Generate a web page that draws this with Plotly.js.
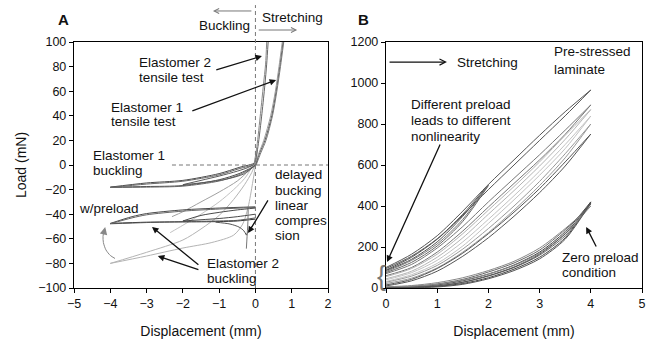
<!DOCTYPE html>
<html><head><meta charset="utf-8">
<script src="https://cdn.plot.ly/plotly-3.0.1.min.js"></script>
<style>html,body{margin:0;padding:0;background:#fff}#chart{width:652px;height:339px}</style>
</head><body><div id="chart"></div>
<script>
// ================= Panel A data (Displacement mm, Load mN) =================
// Elastomer 2 tensile test
const e2TenY  = [0, 15, 42, 65, 82, 100];
const e2TenX1 = [-0.02, 0.07, 0.18, 0.26, 0.31, 0.35];
const e2TenX2 = [-0.04, 0.04, 0.14, 0.22, 0.28, 0.31];
// Elastomer 1 tensile test
const e1TenY  = [0, 10, 20, 40, 60, 80, 100];
const e1TenX1 = [0, 0.12, 0.26, 0.45, 0.57, 0.67, 0.76];
const e1TenX2 = [0.02, 0.15, 0.29, 0.47, 0.59, 0.69, 0.78];
const e1TenX3 = [-0.02, 0.1, 0.23, 0.42, 0.55, 0.65, 0.74];
// Elastomer 1 buckling (cycles to -4 mm and -2 mm)
const e1CompX   = [0.05, 0, -0.1, -0.45, -1, -2, -3, -4];
const e1CompY1  = [6, 0, -2, -7, -12, -16.7, -17.5, -18];
const e1CompY2  = [5, 0, -2.5, -8, -13, -17.2, -18, -18.3];
const e1RetX    = [-4, -3, -2, -1, -0.45, 0, 0.05];
const e1RetY1   = [-18, -14.6, -12.5, -7, -2, 2, 6];
const e1RetY2   = [-18.3, -15.5, -13.2, -8, -3, 1, 5];
const e1ShortOutX = [0, -0.3, -0.8, -1.5, -2];
const e1ShortOutY = [0, -7, -11.5, -14.5, -16];
const e1ShortRetX = [-2, -1.5, -1, -0.5, -0.2, 0];
const e1ShortRetY = [-16, -12.5, -9, -5, -2, 1];
// Elastomer 2 buckling with preload
const e2OutX   = [0, -0.5, -1, -2, -3, -4];
const e2LowY1  = [-44, -45.5, -46, -46.3, -46.5, -47.5];
const e2LowY2  = [-43, -45, -45.5, -46, -46.8, -47.8];
const e2RetX   = [-4, -3.4, -3, -2, -1, 0];
const e2UpY1   = [-47.5, -42, -39.5, -36.5, -35, -34];
const e2UpY2   = [-47.8, -43, -40.5, -37.5, -35.8, -34.5];
const e2ShortOutX = [0, -0.5, -1, -1.5, -2];
const e2ShortOutY = [-40, -42, -43.5, -44.5, -45.5];
const e2ShortRetX = [-2, -1.5, -1, -0.5, 0];
const e2ShortRetY = [-45.5, -41, -38.5, -36.5, -35];
// delayed buckling / linear compression
const delayLeftX  = [-1.1, -0.7, -0.45, -0.32, -0.25];
const delayLeftY  = [-46.5, -48, -50.5, -53.5, -57];
const delayRightX = [-0.25, -0.18, -0.1, -0.03, 0];
const delayRightY = [-57, -53, -50, -47.5, -46];
const delayVertX  = [-0.2, -0.21, -0.23, -0.25];
const delayVertY  = [-36, -48, -58, -68];
// Elastomer 2 buckling without preload (light grey)
const lgt1X = [-4, -3, -2, -1.5, -1, -0.6, -0.3, -0.1, 0, 0.05];
const lgt1Y = [-80, -71, -61, -52, -41, -28, -16, -6, 2, 12];
const lgt2X = [-4, -3, -2, -1.2, -0.6, -0.35, -0.2, -0.08, 0, 0.05];
const lgt2Y = [-80, -74, -67.5, -63, -57, -48, -34, -15, 0, 12];
const lgt3X = [-2.35, -2, -1.5, -1, -0.6, -0.3, -0.1, 0.02];
const lgt3Y = [-55, -49, -40, -30, -20, -11, -2, 5];
const lgt4X = [-2.3, -2, -1.5, -1, -0.5, -0.2, 0];
const lgt4Y = [-42, -38, -30, -22, -13, -5, 2];
// curved grey arrow (w/preload)
const arcX = [-3.87, -4.0, -4.12, -4.19, -4.2, -4.17];
const arcY = [-76, -73.5, -69, -63, -58, -53];

// ================= Panel B data (Displacement mm, Load mN) =================
const bX     = [0, 0.5, 1, 1.5, 2, 2.5, 3, 3.5, 4];
const bXHalf = [0, 0.5, 1, 1.5, 2];
// pre-stressed laminate loops
const pALoad = [100, 165, 255, 375, 505, 625, 745, 860, 966];
const pAUnl  = [88, 150, 238, 355, 480, 600, 720, 840, 966];
const pBLoad = [70, 115, 195, 300, 420, 535, 650, 770, 893];
const pBUnl  = [60, 100, 175, 278, 395, 510, 625, 750, 893];
const pCLoad = [55, 95, 165, 265, 380, 495, 615, 745, 870];
const pCUnl  = [45, 82, 150, 245, 360, 475, 595, 725, 870];
const pDLoad = [40, 75, 135, 225, 335, 450, 570, 700, 839];
const pDUnl  = [32, 65, 120, 205, 315, 430, 550, 680, 839];
const pELoad = [28, 58, 110, 190, 290, 400, 520, 655, 800];
const pEUnl  = [22, 48, 98, 175, 270, 380, 500, 635, 800];
const pFLoad = [15, 42, 95, 170, 265, 370, 485, 615, 751];
const pFUnl  = [10, 35, 82, 155, 245, 350, 465, 595, 751];
const pHLoad1 = [85, 140, 225, 350, 500];
const pHUnl1  = [75, 125, 205, 325, 500];
const pHLoad2 = [95, 155, 240, 360, 505];
const pHUnl2  = [80, 135, 215, 335, 505];
// zero preload loops
const z1Load = [0, 5, 15, 35, 68, 112, 175, 275, 420];
const z1Unl  = [0, 2, 8, 22, 50, 92, 150, 245, 420];
const z2Load = [3, 8, 20, 42, 78, 122, 185, 285, 410];
const z2Unl  = [2, 4, 10, 28, 58, 100, 160, 255, 410];
const z3Load = [6, 12, 26, 50, 85, 130, 195, 290, 400];
const z3Unl  = [4, 8, 18, 38, 68, 110, 170, 265, 400];
const z4Load = [0, 3, 10, 28, 60, 102, 165, 265, 415];
const z4Unl  = [0, 1, 5, 18, 45, 85, 142, 238, 415];

// ================= Build =================
const DARK = '#4a4a4a', LIGHT = '#b4b4b4', LIGHT2 = '#c2c2c2';
const FONT = 'Liberation Sans, Arial, sans-serif';
const TS = 13.5;
const traces = [];
function ln(x, y, color, ax, w, shape) {
  traces.push({x: x, y: y, type: 'scatter', mode: 'lines', hoverinfo: 'skip', showlegend: false,
    line: {color: color, width: w || 1, shape: shape || 'spline', smoothing: 0.8},
    xaxis: ax === 2 ? 'x2' : 'x', yaxis: ax === 2 ? 'y2' : 'y'});
}
// Panel A
ln(lgt1X, lgt1Y, LIGHT, 1); ln(lgt2X, lgt2Y, LIGHT, 1); ln(lgt3X, lgt3Y, LIGHT2, 1); ln(lgt4X, lgt4Y, '#a0a0a0', 1);
ln(e1CompX, e1CompY1, DARK, 1); ln(e1RetX, e1RetY1, DARK, 1);
ln(e1CompX, e1CompY2, '#666', 1); ln(e1RetX, e1RetY2, '#666', 1);
ln(e1ShortOutX, e1ShortOutY, '#5a5a5a', 1); ln(e1ShortRetX, e1ShortRetY, '#5a5a5a', 1);
ln(e2OutX, e2LowY1, '#333', 1.2); ln(e2RetX, e2UpY1, DARK, 1);
ln(e2OutX, e2LowY2, '#555', 1); ln(e2RetX, e2UpY2, '#666', 1);
ln(e2ShortOutX, e2ShortOutY, DARK, 1); ln(e2ShortRetX, e2ShortRetY, DARK, 1);
ln(delayLeftX, delayLeftY, '#555', 1); ln(delayRightX, delayRightY, '#555', 1);
ln(delayVertX, delayVertY, '#777', 1);
ln(e2TenX1, e2TenY, '#666', 1.2); ln(e2TenX2, e2TenY, '#888', 1);
ln(e1TenX1, e1TenY, '#555', 1.2); ln(e1TenX2, e1TenY, '#777', 1); ln(e1TenX3, e1TenY, '#999', 1);
ln(arcX, arcY, '#888', 1.5);
// Panel B
const preLoops = [[pALoad, pAUnl, '#555'], [pBLoad, pBUnl, '#777'], [pCLoad, pCUnl, LIGHT],
  [pDLoad, pDUnl, LIGHT2], [pELoad, pEUnl, '#999'], [pFLoad, pFUnl, '#555']];
preLoops.forEach(l => { ln(bX, l[0], l[2], 2); ln(bX, l[1], l[2], 2); });
ln(bXHalf, pHLoad1, '#555', 2); ln(bXHalf, pHUnl1, '#666', 2);
ln(bXHalf, pHLoad2, '#555', 2); ln(bXHalf, pHUnl2, '#777', 2);
const zLoops = [[z1Load, z1Unl, '#444'], [z2Load, z2Unl, '#666'], [z3Load, z3Unl, '#888'], [z4Load, z4Unl, '#555']];
zLoops.forEach(l => { ln(bX, l[0], l[2], 2); ln(bX, l[1], l[2], 2); });

const W = 652, H = 339;
const px = v => v / W, py = v => 1 - v / H;
const annotations = [];
function txt(s, x, y, opts) {
  annotations.push(Object.assign({text: s, xref: 'paper', yref: 'paper', x: px(x), y: py(y),
    xanchor: 'left', yanchor: 'middle', showarrow: false,
    font: {family: FONT, size: TS, color: '#111'}}, opts || {}));
}
function arr(x, y, ax, ay, xr, yr, color, head, w) {
  annotations.push({text: '', xref: xr, yref: yr, axref: xr, ayref: yr, x: x, y: y, ax: ax, ay: ay,
    showarrow: true, arrowcolor: color, arrowhead: head, arrowsize: 1, arrowwidth: w || 1.3});
}
// panel labels
txt('<b>A</b>', 63, 19, {xanchor: 'center', font: {family: FONT, size: 15, color: '#111'}});
txt('<b>B</b>', 363, 19, {xanchor: 'center', font: {family: FONT, size: 15, color: '#111'}});
// Panel A texts
txt('Buckling', 197, 25); txt('Stretching', 260, 17);
txt('Elastomer 2', 137, 62); txt('tensile test', 137, 77);
txt('Elastomer 1', 109, 107); txt('tensile test', 109, 121);
txt('Elastomer 1', 91, 155); txt('buckling', 91, 170);
txt('w/preload', 77, 208);
txt('delayed', 273, 175); txt('bucking', 273, 190); txt('linear', 273, 205);
txt('compres', 273, 220); txt('sion', 273, 235);
txt('Elastomer 2', 205, 263); txt('buckling', 205, 278);
// Panel A arrows
arr(-1.17, 0.9676, -0.07, 0.9676, 'x', 'paper', '#777', 5, 1);
arr(1.15, 0.9115, 0.05, 0.9115, 'x', 'paper', '#777', 5, 1);
arr(0.18, 88.6, -1.12, 77.0, 'x', 'y', '#111', 2);
arr(0.57, 69.1, -1.78, 43.6, 'x', 'y', '#111', 2);
arr(-0.2, -55.3, 0.37, -27.6, 'x', 'y', '#111', 2);
arr(-2.85, -50.4, -1.53, -82.1, 'x', 'y', '#111', 2);
arr(-2.69, -74.0, -1.53, -85.4, 'x', 'y', '#111', 2);
arr(-4.14, -50.5, -4.175, -55, 'x', 'y', '#888', 2, 1.5);
// Panel B texts
txt('Stretching', 455, 62);
txt('Pre-stressed', 552, 52); txt('laminate', 552, 69);
txt('Different preload', 409, 104); txt('leads to different', 409, 120); txt('nonlinearity', 409, 136);
txt('Zero preload', 560, 257); txt('condition', 560, 272);
txt('{', 382, 276, {xanchor: 'center', font: {family: FONT, size: 27, color: '#777'}});
// Panel B arrows
arr(1.19, 1102, 0.04, 1102, 'x2', 'y2', '#111', 5, 1.2);
arr(0.02, 127, 1.07, 707, 'x2', 'y2', '#111', 2);
arr(3.91, 298, 4.12, 195, 'x2', 'y2', '#111', 2);

const axBase = {showgrid: false, zeroline: false, showline: true, linecolor: '#000', linewidth: 1.2,
  mirror: true, ticks: 'outside', ticklen: 4, tickcolor: '#000',
  tickfont: {family: FONT, size: 12.5, color: '#111'}};
const yDom = [1 - 288 / H, 1 - 42 / H];
const layout = {
  width: W, height: H, margin: {l: 0, r: 0, t: 0, b: 0},
  paper_bgcolor: '#fff', plot_bgcolor: '#fff', showlegend: false,
  font: {family: FONT, color: '#111'},
  xaxis: Object.assign({}, axBase, {domain: [74 / W, 328 / W], range: [-5, 2], dtick: 1, anchor: 'y',
    title: {text: 'Displacement (mm)', font: {family: FONT, size: 14, color: '#111'}, standoff: 16}}),
  yaxis: Object.assign({}, axBase, {domain: yDom, range: [-100, 100], dtick: 20, anchor: 'x',
    title: {text: 'Load (mN)', font: {family: FONT, size: 14, color: '#111'}, standoff: 8}}),
  xaxis2: Object.assign({}, axBase, {domain: [386 / W, 642 / W], range: [0, 5], dtick: 1, anchor: 'y2',
    title: {text: 'Displacement (mm)', font: {family: FONT, size: 14, color: '#111'}, standoff: 16}}),
  yaxis2: Object.assign({}, axBase, {domain: yDom, range: [0, 1200], dtick: 200, anchor: 'x2'}),
  shapes: [
    {type: 'line', xref: 'x', yref: 'y', x0: -2.3, x1: 2, y0: 0, y1: 0, line: {color: '#777', width: 1, dash: '4px,3px'}},
    {type: 'line', xref: 'x', yref: 'paper', x0: 0, x1: 0, y0: yDom[0], y1: 0.985, line: {color: '#777', width: 1, dash: '4px,3px'}}
  ],
  annotations: annotations
};
Plotly.newPlot('chart', traces, layout, {staticPlot: true, displayModeBar: false});
</script></body></html>
